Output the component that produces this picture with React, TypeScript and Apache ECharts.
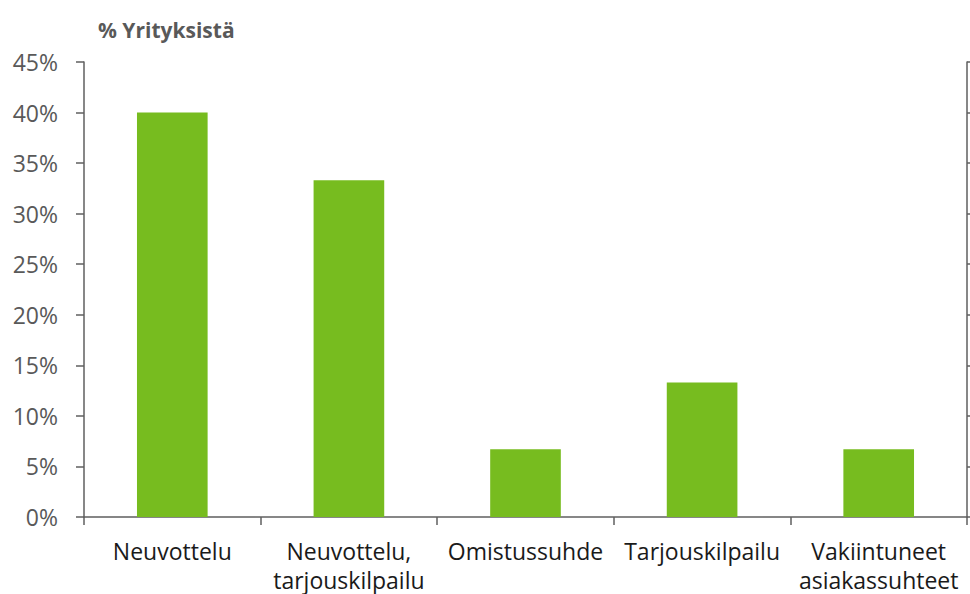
import React, { useEffect, useRef } from "react";
import * as echarts from "echarts";

const categories = ["Neuvottelu", "Neuvottelu,\ntarjouskilpailu", "Omistussuhde", "Tarjouskilpailu", "Vakiintuneet\nasiakassuhteet"];
const values = [40.0, 33.3, 6.7, 13.3, 6.7];
const yTicks = { min: 0, max: 45, interval: 5 };
const titleText = "% Yrityksistä";

const FONT = "'Open Sans', sans-serif";
const AXIS = "#5f5f5f";

export default function App() {
  const ref = useRef<HTMLDivElement>(null);
  useEffect(() => {
    if (!ref.current) return;
    const chart = echarts.init(ref.current, null, { renderer: "svg" });
    chart.setOption({
      animation: false,
      title: {
        text: titleText,
        left: 93,
        top: 14,
        textStyle: { fontFamily: FONT, fontSize: 21, fontWeight: "bold", color: "#595959" },
      },
      grid: { left: 84, right: 3, top: 62, bottom: 76, containLabel: false },
      xAxis: {
        type: "category",
        data: categories,
        axisLine: { lineStyle: { color: AXIS, width: 1.5 } },
        axisTick: { show: true, length: 8, alignWithLabel: false, lineStyle: { color: AXIS, width: 1.5 } },
        axisLabel: {
          interval: 0,
          margin: 19,
          fontFamily: FONT,
          fontSize: 23,
          lineHeight: 29,
          color: "#1a1a1a",
        },
      },
      yAxis: [
        {
          type: "value",
          min: yTicks.min,
          max: yTicks.max,
          interval: yTicks.interval,
          position: "left",
          splitLine: { show: false },
          axisLine: { show: true, lineStyle: { color: AXIS, width: 1.5 } },
          axisTick: { show: true, length: 8, lineStyle: { color: AXIS, width: 1.5 } },
          axisLabel: {
            margin: 26,
            fontFamily: FONT,
            fontSize: 23,
            color: "#595959",
            formatter: (v: number) => `${v}%`,
          },
        },
        {
          type: "value",
          min: yTicks.min,
          max: yTicks.max,
          interval: yTicks.interval,
          position: "right",
          splitLine: { show: false },
          axisLine: { show: true, lineStyle: { color: AXIS, width: 1.5 } },
          axisTick: { show: true, length: 5, lineStyle: { color: AXIS, width: 1.5 } },
          axisLabel: { show: false },
        },
      ],
      series: [
        {
          type: "bar",
          data: values,
          barWidth: "40%",
          itemStyle: { color: "#77BC1F" },
        },
      ],
    });
    return () => chart.dispose();
  }, []);
  return <div ref={ref} style={{ width: 970, height: 594, position: "absolute", left: 0, top: 0 }} />;
}
